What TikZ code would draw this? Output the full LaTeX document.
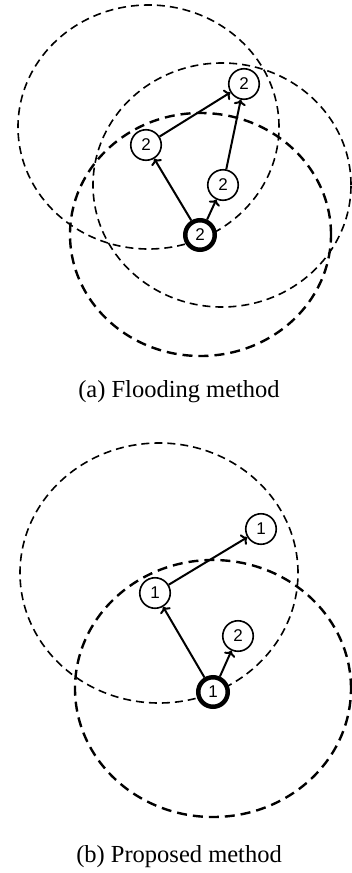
\documentclass[tikz,border=0pt]{standalone}
\usepackage{fontspec}
\setmainfont{Liberation Serif}
\newfontfamily\nodefont{Liberation Sans}
\usetikzlibrary{arrows.meta}
\begin{document}
\begin{tikzpicture}[x=1pt,y=-1pt,
  rangethin/.style={draw, line width=1.6pt, dash pattern=on 8pt off 5pt},
  rangethick/.style={draw, line width=2.4pt, dash pattern=on 10pt off 6pt},
  pnode/.style={circle, draw, fill=white, line width=1.6pt, minimum size=30.5pt, inner sep=0pt, font=\nodefont\fontsize{17}{19}\selectfont},
  srcnode/.style={pnode, line width=4.5pt, minimum size=29.5pt},
  hop/.style={line width=2pt, -{To[length=5.5pt,width=12pt]}},
  captext/.style={font=\fontsize{24.5}{29}\selectfont}
]
\useasboundingbox (0,0) rectangle (351,873);
% ---------- (a) Flooding method ----------
\draw[rangethin] (148.5,127) ellipse [x radius=130.5pt, y radius=122pt];
\draw[rangethin] (222,185) ellipse [x radius=129pt, y radius=122pt];
\draw[rangethick] (200.5,234.5) ellipse [x radius=130.5pt, y radius=121.5pt];
\node[srcnode] (a0) at (200,235) {2};
\node[pnode] (a1) at (146,145) {2};
\node[pnode] (a2) at (223,185) {2};
\node[pnode] (a3) at (244,84) {2};
\draw[hop] (a0) -- (a1);
\draw[hop] (a0) -- (a2);
\draw[hop] (a1) -- (a3);
\draw[hop] (a2) -- (a3);
\node[captext] (capa) at (179,392) {(a) Flooding method};
% ---------- (b) Proposed method ----------
\draw[rangethin] (159,573) ellipse [x radius=139pt, y radius=130pt];
\draw[rangethick] (213,688.5) ellipse [x radius=138pt, y radius=128.5pt];
\node[srcnode] (b0) at (213,692) {1};
\node[pnode] (b1) at (155,593) {1};
\node[pnode] (b2) at (238,636) {2};
\node[pnode] (b3) at (261,529) {1};
\draw[hop] (b0) -- (b1);
\draw[hop] (b0) -- (b2);
\draw[hop] (b1) -- (b3);
\node[captext] (capb) at (179,857) {(b) Proposed method};
\end{tikzpicture}
\end{document}
